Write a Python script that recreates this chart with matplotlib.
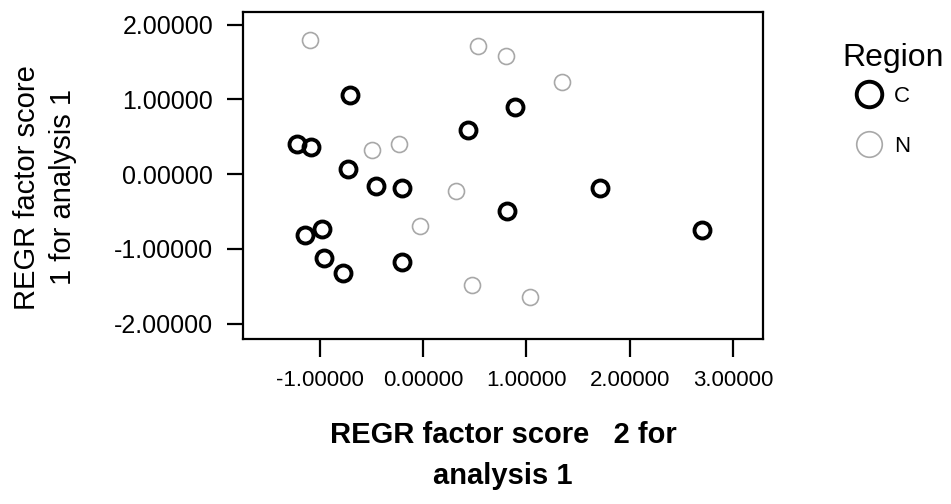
"Scatter of factor scores by region"
import matplotlib
matplotlib.use('Agg')
import matplotlib.pyplot as plt

# factor scores
c_x = [-0.71, 0.89, 0.44, -1.22, -1.08, -0.72, -0.45, -0.20, 0.81, -0.98,
       -1.14, -0.96, -0.20, -0.77, 1.71, 2.70]
c_y = [1.06, 0.90, 0.59, 0.40, 0.37, 0.07, -0.16, -0.18, -0.49, -0.74,
       -0.82, -1.12, -1.18, -1.33, -0.18, -0.75]
n_x = [-1.09, 0.53, 0.80, 1.34, -0.49, -0.23, 0.32, -0.03, 0.47, 1.04]
n_y = [1.79, 1.71, 1.58, 1.23, 0.32, 0.40, -0.22, -0.70, -1.49, -1.64]

xticks = [-1, 0, 1, 2, 3]
yticks = [-2, -1, 0, 1, 2]

plt.rcParams['font.family'] = ['Liberation Sans', 'DejaVu Sans']

fig = plt.figure(figsize=(9.51, 5.04), dpi=100)
ax = fig.add_axes([0.2555, 0.327, 0.547, 0.649])

ax.plot(c_x, c_y, 'o', ms=11.5, mfc='none', mec='black', mew=2.8, label='C')
ax.plot(n_x, n_y, 'o', ms=11.5, mfc='none', mec='#a8a8a8', mew=1.2, label='N')

ax.set_xlim(-1.74, 3.29)
ax.set_ylim(-2.21, 2.17)
ax.set_xticks(xticks)
ax.set_yticks(yticks)
ax.set_xticklabels(['%.5f' % v for v in xticks], fontsize=16)
ax.set_yticklabels(['%.5f' % v for v in yticks], fontsize=18)
ax.tick_params(axis='x', length=13, width=1.6, pad=9)
ax.tick_params(axis='y', length=11.5, width=1.6, pad=10)
for sp in ax.spines.values():
    sp.set_linewidth(1.6)

ax.set_xlabel('REGR factor score   2 for\nanalysis 1', fontsize=21,
              fontweight='bold', linespacing=1.6)
ax.xaxis.set_label_coords(0.5, -0.25)
ax.set_ylabel('REGR factor score\n1 for analysis 1', fontsize=21,
              linespacing=1.35)
ax.yaxis.set_label_coords(-0.32, 0.465)

fig.text(842 / 951, 1 - 43 / 504, 'Region', fontsize=23, va='top', ha='left')
fig.legend(loc='upper left', bbox_to_anchor=(852 / 951, 1 - 86 / 504),
           frameon=False, fontsize=16, markerscale=1.6, borderpad=0,
           borderaxespad=0, handlelength=1.5, handletextpad=0.4,
           labelspacing=1.3)

fig.savefig('out.png', dpi=100)
